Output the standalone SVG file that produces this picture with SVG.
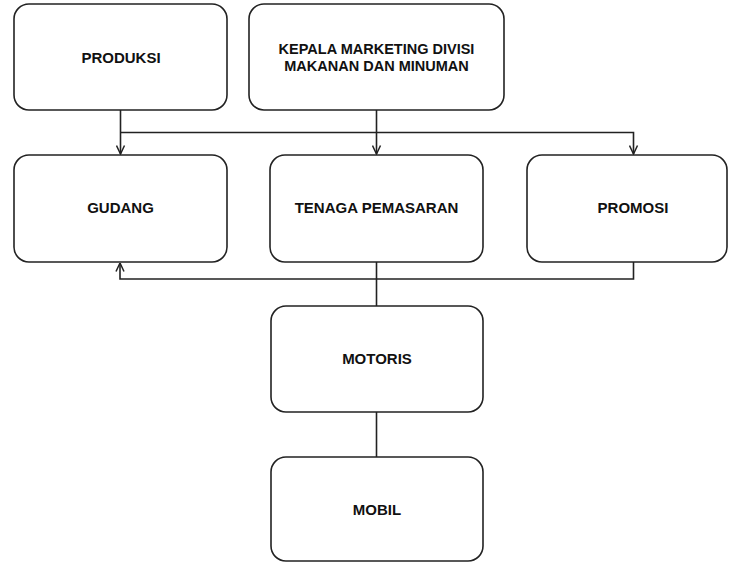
<svg xmlns="http://www.w3.org/2000/svg" width="729" height="562" viewBox="0 0 729 562">
<style>
.box{fill:#fff;stroke:#222;stroke-width:1.6}
.lbl{font-family:"Liberation Sans",Arial,sans-serif;font-weight:bold;font-size:15px;fill:#111;text-anchor:middle}
.sm{font-size:14.5px}
.ln{fill:none;stroke:#222;stroke-width:1.6}
</style>
<defs>
<marker id="arr" viewBox="0 0 10 10" refX="9.5" refY="5" markerWidth="10" markerHeight="10" markerUnits="userSpaceOnUse" orient="auto">
<path d="M1,1 L9.5,5 L1,9" fill="none" stroke="#222" stroke-width="1.5"/>
</marker>
</defs>
<rect width="729" height="562" fill="#fff"/>
<g id="connectors">
<path class="ln" d="M120.5,110 V154" marker-end="url(#arr)"/>
<path class="ln" d="M120.5,132.5 H633.5 V154" marker-end="url(#arr)"/>
<path class="ln" d="M376.5,110 V154" marker-end="url(#arr)"/>
<path class="ln" d="M633.5,262 V279 H120 V263" marker-end="url(#arr)"/>
<path class="ln" d="M376.5,262 V306"/>
<path class="ln" d="M376.5,412 V457"/>
</g>
<g id="produksi">
<rect class="box" x="14" y="4" width="213" height="106" rx="15"/>
<text class="lbl" x="121" y="62.5">PRODUKSI</text>
</g>
<g id="kepala">
<rect class="box" x="249" y="4" width="255" height="106" rx="15"/>
<text class="lbl sm" x="376.5" y="53.8">KEPALA MARKETING DIVISI</text>
<text class="lbl sm" x="376.5" y="70.8">MAKANAN DAN MINUMAN</text>
</g>
<g id="gudang">
<rect class="box" x="14" y="155" width="213" height="107" rx="15"/>
<text class="lbl" x="120.5" y="212.5">GUDANG</text>
</g>
<g id="tenaga">
<rect class="box" x="270" y="155" width="213" height="107" rx="15"/>
<text class="lbl" x="376.5" y="212.5">TENAGA PEMASARAN</text>
</g>
<g id="promosi">
<rect class="box" x="527" y="155" width="200" height="107" rx="15"/>
<text class="lbl" x="633" y="212.5">PROMOSI</text>
</g>
<g id="motoris">
<rect class="box" x="271" y="306" width="212" height="106" rx="15"/>
<text class="lbl" x="377" y="363.5">MOTORIS</text>
</g>
<g id="mobil">
<rect class="box" x="271" y="457" width="212" height="104" rx="15"/>
<text class="lbl" x="377" y="515">MOBIL</text>
</g>
</svg>
